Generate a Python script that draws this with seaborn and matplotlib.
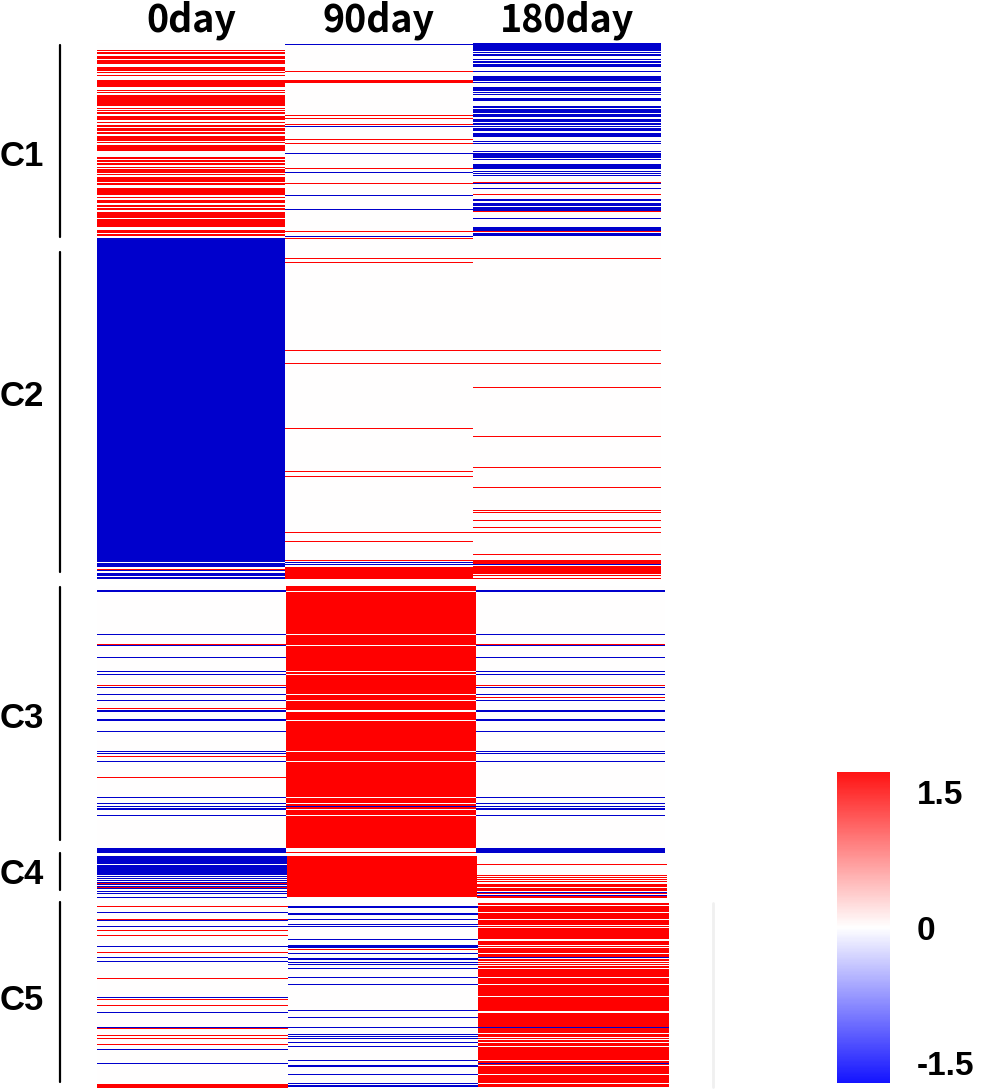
import re
import numpy as np
import pandas as pd
import matplotlib
matplotlib.use("Agg")
import matplotlib.pyplot as plt
import seaborn as sns
from matplotlib.colors import LinearSegmentedColormap, Normalize
from matplotlib.cm import ScalarMappable
from matplotlib.lines import Line2D

# Data: 3 time points, 5 gene clusters
days = ["0day", "90day", "180day"]
clusters = ["C1", "C2", "C3", "C4", "C5"]
n_genes = [195, 341, 267, 42, 186]
level = {"r": 1.5, "b": -1.5, "w": 0.0}

# each column = (background level, "start-row + level (+ run length)")
c1_cols = [
    ("w", "7r 9r2 13r3 17r4 24r4 29r 32r 37r7 47r 49r 52r11 65r 67r 69r2 73r4 79r 82r2 "
          "85r3 89r2 93r5 99r 102r6 114r2 117r2 120r2 124r 126r4 131r 134r5 140r2 145r7 "
          "154r 157r3 162r2 165r2 169r6 176r8 187r3 191r2"),
    ("w", "1b 28r 37r3 72r 75r 81r 83b 96r 100r 110b 125r 129b 140r 152b 166b 188r 193b"),
    ("w", "0b8 9b 11b2 16b 18b2 21b3 28b 33b5 39b 44b4 49b 51b 55b3 63b2 66b4 71b3 76b3 "
          "80b2 83b 85b3 90b4 98b 100b 108b 110b5 116b 121b5 128b 130b 132b 139r 140b 145b "
          "151r 156b2 160b3 164b4 168r 175b 184b4 188r 190b3"),
]
c2_cols = [
    ("b", "324w 329w2 331r 333w2 338w"),
    ("w", "0r 20r 24r 112r 125r 190r 233r 238r 294r 303r 322r 324b 326b 329r12"),
    ("w", "20r 112r 125r 149r 198r 229r 249r 272r 274r 282r 289r 294r 316r 322r4 326b "
          "328r8 337r 340r"),
]
c3_cols = [
    ("w", "4b2 48b 58r 59b 71b 85b 88b 99r 101b 108b 114b 122r 124b2 133b2 145b 165b 167b "
          "170r 175b 191r 211b 217b 220b 222b2 229b 262b5"),
    ("r", "5w 48w 59w 85w 88w 108w 114w 124w2 134w 165w 175w 211w 217w 220b 223w 229w "
          "262w4"),
    ("w", "4b2 48b 58r 59b 71b 85b 88b 99r 101b 108b 111r 114b 124b2 133b2 145b 165b 167b "
          "175b 211b 217b 220b 222b2 229b 262b5"),
]
c4_cols = [
    ("w", "0b8 9b10 20b 22b 24b 26b 27r 28b 30b 31r 32b 35b 37b 41b"),
    ("r", "41w"),
    ("w", "8r 19r 21r 23r 25r 28r3 32r3 36b 37r 39b 40r2"),
]
c5_cols = [
    ("w", "4r 10b 17r 18b 24b 28r 33r 44b 50r 55b 59b 76r 95b 97r 103r 110b 125b 126r "
          "133r 136r 142r 147b 161b 182r4"),
    ("w", "4b2 11b2 17b 22b 24b 37b 43b3 47r 51b 56b2 60b 62b 66b 75b 82b 108b 115b 125b "
          "132b 134b 136b 140b 144b 158b 163b2 172b 181b 183b2"),
    ("r", "0w 3w 10w 17w 23w 25w 37w2 43w 45w 51w 55b 56w 59w 61w 63w 66w 75w 82w 94w "
          "109w2 125b 131w 135w 137w 140w 144w 158w 161b 163w 172w 181w 185w"),
]
cluster_cols = [c1_cols, c2_cols, c3_cols, c4_cols, c5_cols]


def decode(n, col):
    base, runs = col
    v = np.full(n, level[base])
    for start, code, length in re.findall(r"(\d+)([rbw])(\d*)", runs):
        s = int(start)
        v[s:s + (int(length) if length else 1)] = level[code]
    return v


frames = []
for name, n, cols in zip(clusters, n_genes, cluster_cols):
    mat = np.column_stack([decode(n, c) for c in cols])
    frames.append(pd.DataFrame(mat, columns=days))

# Plot
sns.set_style("white")
plt.rcParams["font.family"] = ["Liberation Sans", "DejaVu Sans"]
plt.rcParams["text.color"] = "black"
plt.rcParams["xtick.color"] = "black"
plt.rcParams["ytick.color"] = "black"

W, H = 987, 1091
fig = plt.figure(figsize=(W / 100, H / 100), dpi=100)


def px_axes(l, t, r, b):
    return fig.add_axes([l / W, 1 - b / H, (r - l) / W, (b - t) / H])


heat_cmap = LinearSegmentedColormap.from_list("hm", ["#0000CC", "#FFFFFF", "#FF0000"])
bar_cmap = LinearSegmentedColormap.from_list("cb", ["#1414FF", "#FFFFFF", "#FF1414"])

boxes = [(97, 43, 661, 238), (97, 238, 661, 579), (97, 586, 665, 853),
         (97, 856, 667, 898), (97, 902, 669, 1088)]

for i, (df, box) in enumerate(zip(frames, boxes)):
    ax = px_axes(*box)
    sns.heatmap(df, ax=ax, cmap=heat_cmap, vmin=-1.5, vmax=1.5, cbar=False,
                xticklabels=(i == 0), yticklabels=False)
    if i == 0:
        ax.xaxis.tick_top()
        ax.set_xticklabels(days, fontsize=27, fontweight="bold", rotation=0,
                           color="black", family=["Noto Sans CJK SC", "DejaVu Sans"])
        ax.tick_params(axis="x", length=0, pad=2)
    ax.set_xlabel("")
    ax.set_ylabel("")

# cluster brackets and labels
brackets = [(45, 237, 157), (252, 572, 396), (587, 840, 718), (853, 890, 875), (902, 1082, 1000)]
for name, (y0, y1, ym) in zip(clusters, brackets):
    fig.add_artist(Line2D([60 / W, 60 / W], [1 - y0 / H, 1 - y1 / H], color="black", lw=1.6))
    fig.text(22 / W, 1 - ym / H, name, fontsize=25, fontweight="bold", color="black",
             ha="center", va="center")

# faint vertical line beside C5
fig.add_artist(Line2D([713 / W, 713 / W], [1 - 903 / H, 1 - 1087 / H], color="#f0f0f0", lw=2))

# colorbar
cax = px_axes(837, 772, 890, 1083)
cb = fig.colorbar(ScalarMappable(norm=Normalize(-1.72, 1.72), cmap=bar_cmap),
                  cax=cax, ticks=[-1.5, 0, 1.5])
cb.ax.set_yticklabels(["-1.5", "0", "1.5"], fontsize=24, fontweight="bold", color="black")
cb.ax.tick_params(length=0, pad=19)
cb.outline.set_visible(False)

fig.savefig("out.png", dpi=100)
